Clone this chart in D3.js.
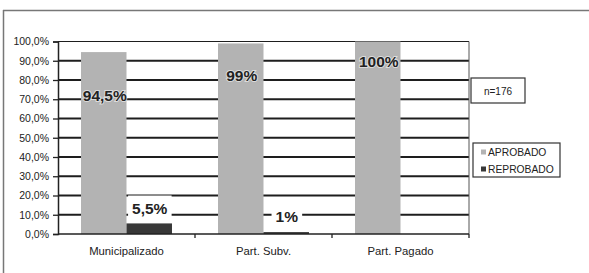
<!DOCTYPE html>
<html><head><meta charset="utf-8">
<script src="https://cdn.jsdelivr.net/npm/d3@7"></script>
<style>body{margin:0;background:#fff}svg{display:block;font-family:"Liberation Sans",Arial,sans-serif}</style>
</head><body><svg id="c" width="589" height="273"></svg>
<script>
// ---- data ----
const categories = ["Municipalizado", "Part. Subv.", "Part. Pagado"];
const seriesNames = ["APROBADO", "REPROBADO"];
const aprobado = [94.5, 99, 100];
const reprobado = [5.5, 1, 0];
const labelsAprobado = ["94,5%", "99%", "100%"];
const labelsReprobado = ["5,5%", "1%", ""];
const yTicks = [0, 10, 20, 30, 40, 50, 60, 70, 80, 90, 100];
const noteText = "n=176";

// ---- layout (not data) ----
const W = 589, H = 273;
const m = {left: 58, right: 469, top: 41.5, bottom: 234};
const labelLevelAprob = [72.2, 82.1, 89.4];   // where the labels sit (value units)
const labelLevelReprob = [13.5, 9.35, 0];
const colors = {APROBADO: "#b3b3b3", REPROBADO: "#383838"};

const svg = d3.select("#c");
svg.append("rect").attr("width", W).attr("height", H).attr("fill", "#fff");

// outer frame (top and left only visible)
svg.append("line").attr("x1", 3).attr("x2", W).attr("y1", 10.5).attr("y2", 10.5).attr("stroke", "#777").attr("stroke-width", 1.5);
svg.append("line").attr("x1", 3.5).attr("x2", 3.5).attr("y1", 10).attr("y2", H).attr("stroke", "#777").attr("stroke-width", 1.5);

const y = d3.scaleLinear().domain([0, 100]).range([m.bottom, m.top]);
const x0 = d3.scaleBand().domain(categories).range([m.left, m.right]).padding(0);
const bw = x0.bandwidth();
const x1 = d3.scaleBand().domain(seriesNames).range([bw * 0.168, bw * 0.832]).padding(0);

// gridlines
svg.append("g").selectAll("line").data(yTicks.filter(d => d > 0)).join("line")
  .attr("x1", m.left).attr("x2", m.right)
  .attr("y1", d => y(d)).attr("y2", d => y(d))
  .attr("stroke", "#1e1e1e").attr("stroke-width", d => d === 100 ? 1.2 : 1.9);
// right border of plot
svg.append("line").attr("x1", m.right).attr("x2", m.right).attr("y1", m.top).attr("y2", m.bottom)
  .attr("stroke", "#555").attr("stroke-width", 1);

// bars
const rows = categories.map((c, i) => ({cat: c, vals: [
  {s: "APROBADO", v: aprobado[i]}, {s: "REPROBADO", v: reprobado[i]}]}));
const g = svg.append("g").selectAll("g").data(rows).join("g")
  .attr("transform", d => `translate(${x0(d.cat)},0)`);
g.selectAll("rect").data(d => d.vals.filter(e => e.v > 0)).join("rect")
  .attr("x", d => x1(d.s)).attr("width", x1.bandwidth())
  .attr("y", d => y(d.v)).attr("height", d => y(0) - y(d.v))
  .attr("fill", d => colors[d.s]);

// axes
const fmt = d => d3.format(".1f")(d).replace(".", ",") + "%";
const yAxis = svg.append("g").attr("transform", `translate(${m.left},0)`)
  .call(d3.axisLeft(y).tickValues(yTicks).tickFormat(fmt).tickSize(5).tickPadding(4));
yAxis.select(".domain").attr("stroke", "#222").attr("stroke-width", 1.5);
yAxis.selectAll(".tick line").attr("stroke", "#222").attr("stroke-width", 1.3);
yAxis.selectAll("text").attr("font-size", "10.5px").attr("fill", "#222");

svg.append("line").attr("x1", m.left).attr("x2", m.right).attr("y1", m.bottom).attr("y2", m.bottom)
  .attr("stroke", "#222").attr("stroke-width", 1.5);
const xAxis = svg.append("g").attr("transform", `translate(0,${m.bottom})`)
  .call(d3.axisBottom(x0).tickSize(0).tickPadding(13));
xAxis.select(".domain").remove();
xAxis.selectAll("text").attr("font-size", "11.3px").attr("fill", "#222");
// category boundary ticks
svg.append("g").selectAll("line").data(categories.slice(1).concat(["__end"])).join("line")
  .attr("x1", d => d === "__end" ? m.right : x0(d)).attr("x2", d => d === "__end" ? m.right : x0(d))
  .attr("y1", m.bottom).attr("y2", m.bottom + 4).attr("stroke", "#222").attr("stroke-width", 1.3);

// value labels
const labG = svg.append("g").attr("font-weight", "bold").attr("font-size", "15.5px").attr("fill", "#222");
categories.forEach((c, i) => {
  const cxA = x0(c) + x1("APROBADO") + x1.bandwidth() / 2;
  labG.append("text").attr("x", cxA + 1).attr("y", y(labelLevelAprob[i]))
    .attr("text-anchor", "middle").attr("dominant-baseline", "central")
    .attr("stroke", "#fff").attr("stroke-width", 2).attr("stroke-opacity", 0.55)
    .attr("paint-order", "stroke").text(labelsAprobado[i]);
  if (labelsReprobado[i]) {
    const cxR = x0(c) + x1("REPROBADO") + x1.bandwidth() / 2 + 0.5;
    const t = labG.append("text").attr("x", cxR).attr("y", y(labelLevelReprob[i]))
      .attr("text-anchor", "middle").attr("dominant-baseline", "central").text(labelsReprobado[i]);
    const b = t.node().getBBox();
    labG.insert("rect", () => t.node()).attr("x", b.x - 4).attr("y", b.y - 4)
      .attr("width", b.width + 8).attr("height", b.height + 8).attr("fill", "#fff");
  }
});

// n box
svg.append("rect").attr("x", 471).attr("y", 78).attr("width", 54).attr("height", 25)
  .attr("fill", "#fff").attr("stroke", "#333").attr("stroke-width", 1.2);
svg.append("text").attr("x", 498).attr("y", 91).attr("text-anchor", "middle").attr("dominant-baseline", "central")
  .attr("font-size", "10px").attr("fill", "#222").text(noteText);

// legend
svg.append("rect").attr("x", 473).attr("y", 143).attr("width", 87).attr("height", 34)
  .attr("fill", "#fff").attr("stroke", "#333").attr("stroke-width", 1.2);
const lg = svg.append("g").selectAll("g").data(seriesNames).join("g")
  .attr("transform", (d, i) => `translate(481,${152 + i * 17})`);
lg.append("rect").attr("x", 0).attr("y", -2.5).attr("width", 5).attr("height", 5).attr("fill", d => colors[d]);
lg.append("text").attr("x", 7).attr("y", 0).attr("dominant-baseline", "central")
  .attr("font-size", "10.3px").attr("fill", "#222").text(d => d);
</script></body></html>
